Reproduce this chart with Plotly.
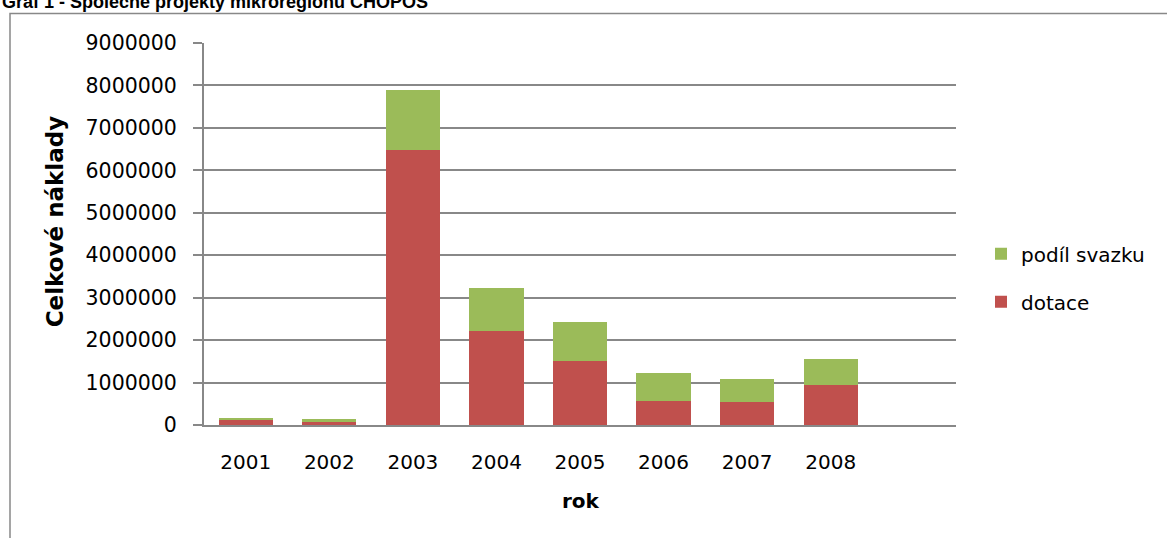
import plotly.graph_objects as go

years = ["2001", "2002", "2003", "2004", "2005", "2006", "2007", "2008"]
dotace = [125000, 80000, 6470000, 2220000, 1500000, 560000, 545000, 950000]
podil_svazku = [45000, 55000, 1430000, 1000000, 920000, 660000, 535000, 600000]
y_ticks = [0, 1000000, 2000000, 3000000, 4000000, 5000000, 6000000, 7000000, 8000000, 9000000]

W, H = 1167, 538
L, R, T, B = 204, 956, 42.5, 425
pw, ph = R - L, B - T

def px(x):
    return (x - L) / pw

def py(y):
    return (B - y) / ph

RED = "#C0504D"
GREEN = "#9BBB59"
GRID = "#888888"
FONT = "DejaVu Sans"

fig = go.Figure()
fig.add_trace(go.Bar(x=years, y=dotace, name="dotace", marker=dict(color=RED, line=dict(width=0)),
                     legendgroup="a", legendrank=2))
fig.add_trace(go.Bar(x=years, y=podil_svazku, name="podíl svazku", marker=dict(color=GREEN, line=dict(width=0)),
                     legendgroup="b", legendrank=1))

fig.update_layout(
    width=W, height=H,
    margin=dict(l=L, r=W - R, t=T, b=H - B, pad=0),
    barmode="stack", bargap=0.35,
    plot_bgcolor="white", paper_bgcolor="white",
    font=dict(family=FONT, size=20, color="black"),
    showlegend=True,
    legend=dict(x=px(981), y=py(234), xanchor="left", yanchor="top",
                traceorder="grouped", tracegroupgap=19,
                font=dict(family=FONT, size=20), itemwidth=30,
                bgcolor="rgba(0,0,0,0)"),
    xaxis=dict(type="category", range=[-0.5, 8.5], showgrid=False,
               showline=True, linecolor=GRID, linewidth=2, ticks="",
               ticklabelstandoff=18, tickfont=dict(family=FONT, size=20)),
    yaxis=dict(range=[0, 9000000], tickvals=y_ticks, ticktext=[str(v) for v in y_ticks],
               showgrid=True, gridcolor=GRID, gridwidth=2,
               showline=True, linecolor=GRID, linewidth=2,
               ticks="outside", ticklen=9, tickcolor=GRID, tickwidth=2,
               ticklabelstandoff=12, tickfont=dict(family=FONT, size=20.5),
               zeroline=False),
)

fig.add_annotation(text="<b>Celkové náklady</b>", xref="paper", yref="paper",
                   x=px(55), y=py(221), textangle=-90, showarrow=False,
                   font=dict(family=FONT, size=23), xanchor="center", yanchor="middle")
fig.add_annotation(text="<b>rok</b>", xref="paper", yref="paper",
                   x=px(581), y=py(501), showarrow=False,
                   font=dict(family=FONT, size=20), xanchor="center", yanchor="middle")
fig.add_annotation(text="<b>Graf 1 - Společné projekty mikroregionu CHOPOS</b>", xref="paper", yref="paper",
                   x=px(0), y=py(13), showarrow=False,
                   font=dict(family="Liberation Sans Narrow, Liberation Sans", size=18),
                   xanchor="left", yanchor="bottom")
fig.add_shape(type="rect", xref="paper", yref="paper",
              x0=px(10), y0=py(560), x1=px(1190), y1=py(13),
              line=dict(color=GRID, width=1.5), fillcolor="rgba(0,0,0,0)", layer="below")

fig.write_html("out.html", config={"displayModeBar": False},
               post_script="document.body.style.margin='0px';document.body.style.overflow='hidden';")
